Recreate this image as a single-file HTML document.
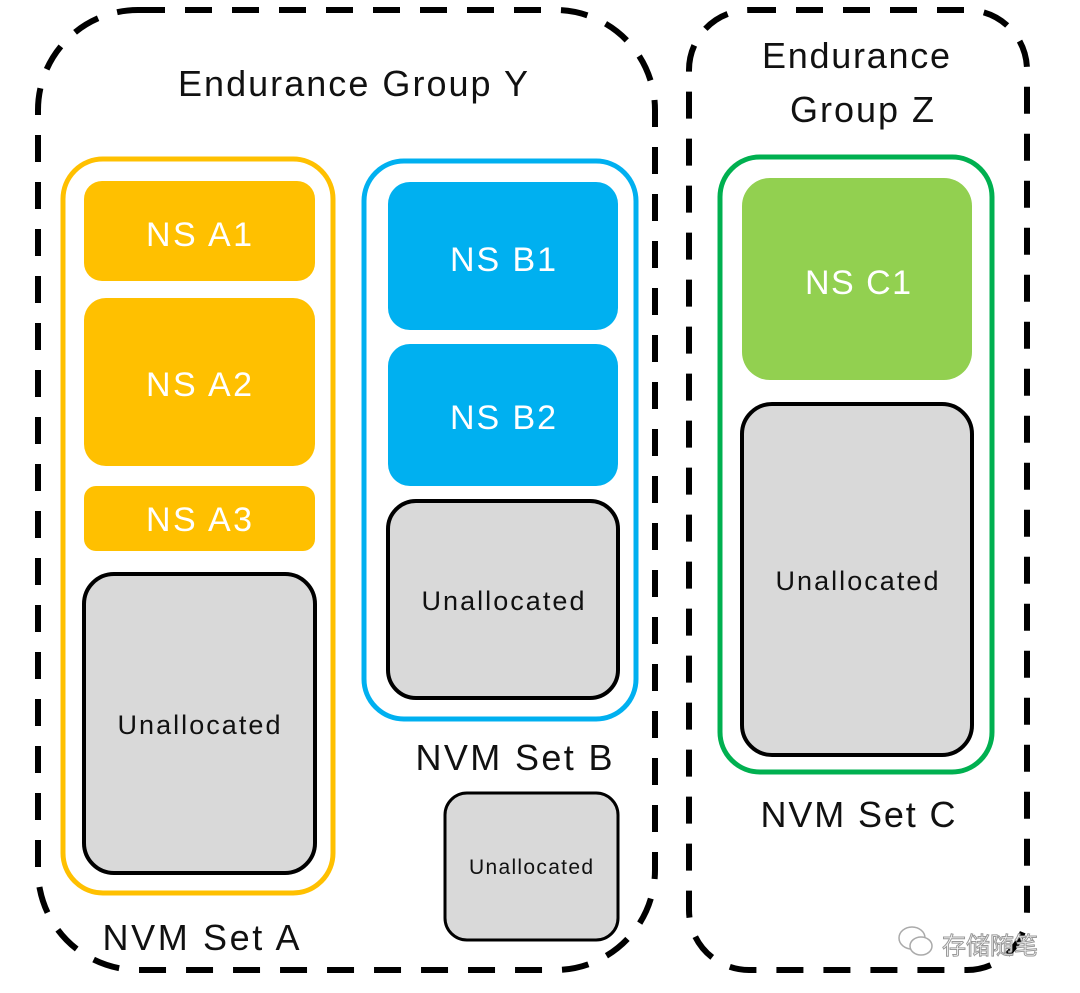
<!DOCTYPE html>
<html><head><meta charset="utf-8"><style>
html,body{margin:0;padding:0;background:#fff;width:1080px;height:993px;overflow:hidden}
svg text{font-family:"Liberation Sans","Noto Sans CJK SC",sans-serif;text-anchor:middle}
</style></head><body>
<svg width="1080" height="993" viewBox="0 0 1080 993" xmlns="http://www.w3.org/2000/svg">
<rect x="38" y="10" width="617" height="960" rx="100" fill="none" stroke="#000" stroke-width="6" stroke-dasharray="27 20"/>
<rect x="689" y="10" width="338" height="960" rx="60" fill="none" stroke="#000" stroke-width="6" stroke-dasharray="27 20"/>
<text x="353" y="96" font-size="36" fill="#111" textLength="350" lengthAdjust="spacing">Endurance Group Y</text>
<text x="856" y="68" font-size="36" fill="#111" textLength="188" lengthAdjust="spacing">Endurance</text>
<text x="862" y="122" font-size="36" fill="#111" textLength="144" lengthAdjust="spacing">Group Z</text>

<rect x="63" y="159" width="270" height="734" rx="40" fill="none" stroke="#ffc000" stroke-width="5"/>
<rect x="84" y="181" width="231" height="100" rx="18" fill="#ffc000"/>
<text x="199" y="246" font-size="34" fill="#fff" textLength="106" lengthAdjust="spacing">NS A1</text>
<rect x="84" y="298" width="231" height="168" rx="22" fill="#ffc000"/>
<text x="199" y="396" font-size="34" fill="#fff" textLength="106" lengthAdjust="spacing">NS A2</text>
<rect x="84" y="486" width="231" height="65" rx="12" fill="#ffc000"/>
<text x="199" y="531" font-size="34" fill="#fff" textLength="106" lengthAdjust="spacing">NS A3</text>
<rect x="84" y="574" width="231" height="299" rx="30" fill="#d9d9d9" stroke="#000" stroke-width="4"/>
<text x="199" y="734" font-size="27" fill="#111" textLength="163" lengthAdjust="spacing">Unallocated</text>
<text x="201" y="950" font-size="36" fill="#111" textLength="197" lengthAdjust="spacing">NVM Set A</text>

<rect x="364" y="161" width="272" height="558" rx="40" fill="none" stroke="#00b0f0" stroke-width="5"/>
<rect x="388" y="182" width="230" height="148" rx="22" fill="#00b0f0"/>
<text x="503" y="271" font-size="34" fill="#fff" textLength="106" lengthAdjust="spacing">NS B1</text>
<rect x="388" y="344" width="230" height="142" rx="22" fill="#00b0f0"/>
<text x="503" y="429" font-size="34" fill="#fff" textLength="106" lengthAdjust="spacing">NS B2</text>
<rect x="388" y="501" width="230" height="197" rx="28" fill="#d9d9d9" stroke="#000" stroke-width="4"/>
<text x="503" y="610" font-size="27" fill="#111" textLength="163" lengthAdjust="spacing">Unallocated</text>
<text x="514" y="770" font-size="36" fill="#111" textLength="197" lengthAdjust="spacing">NVM Set B</text>
<rect x="445" y="793" width="173" height="147" rx="22" fill="#d9d9d9" stroke="#000" stroke-width="3"/>
<text x="531" y="874" font-size="21" fill="#111" textLength="124" lengthAdjust="spacing">Unallocated</text>

<rect x="720" y="157" width="272" height="615" rx="40" fill="none" stroke="#00b050" stroke-width="5"/>
<rect x="742" y="178" width="230" height="202" rx="28" fill="#92d050"/>
<text x="858" y="294" font-size="34" fill="#fff" textLength="106" lengthAdjust="spacing">NS C1</text>
<rect x="742" y="404" width="230" height="351" rx="30" fill="#d9d9d9" stroke="#000" stroke-width="4"/>
<text x="857" y="590" font-size="27" fill="#111" textLength="163" lengthAdjust="spacing">Unallocated</text>
<text x="858" y="827" font-size="36" fill="#111" textLength="195" lengthAdjust="spacing">NVM Set C</text>

<g fill="#fff" stroke="#aaa" stroke-width="1.5">
<ellipse cx="912" cy="938" rx="13" ry="11"/>
<ellipse cx="921" cy="946" rx="11" ry="9"/>
</g>
<text x="990" y="954" font-size="24" fill="#fff" stroke="#999" stroke-width="1">存储随笔</text>
</svg>
</body></html>
